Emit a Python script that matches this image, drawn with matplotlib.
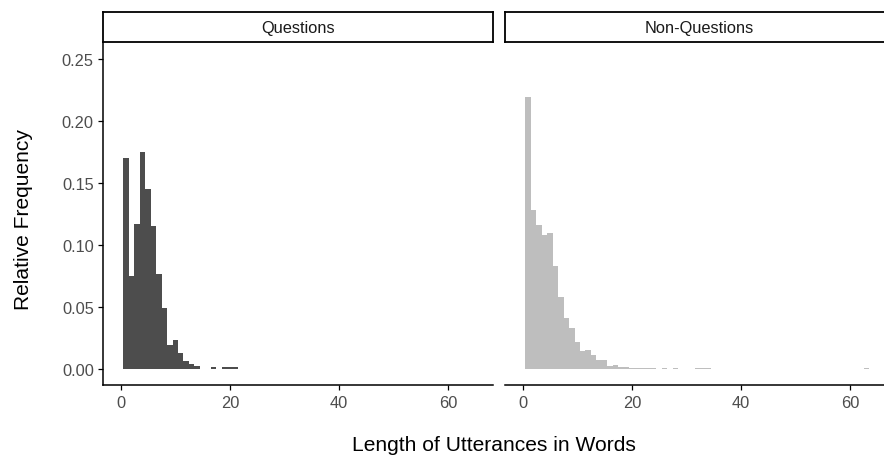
import matplotlib
matplotlib.use('Agg')
import matplotlib.pyplot as plt

plt.rcParams['font.family'] = ['Liberation Sans', 'DejaVu Sans']

#%% Daten

panels = ['Questions', 'Non-Questions']

q_len = [1, 2, 3, 4, 5, 6, 7, 8, 9, 10, 11, 12, 13, 14, 17, 19, 20, 21]
q_freq = [0.170, 0.075, 0.117, 0.175, 0.145, 0.115, 0.0765, 0.049, 0.019, 0.0235,
          0.0128, 0.0061, 0.004, 0.002, 0.0014, 0.0014, 0.0014, 0.0014]

n_len = list(range(1, 25)) + [26, 28, 32, 33, 34, 63]
n_freq = [0.2187, 0.128, 0.1158, 0.108, 0.1094, 0.0832, 0.0583, 0.0414, 0.0332, 0.0219,
          0.0142, 0.015, 0.011, 0.0072, 0.0072, 0.0027, 0.0032, 0.0019, 0.0013, 0.0010,
          0.0010, 0.0009, 0.0009, 0.0008, 0.0008, 0.0008, 0.0008, 0.0008, 0.0008, 0.0008]

x_ticks = [0, 20, 40, 60]
y_ticks = [0.00, 0.05, 0.10, 0.15, 0.20, 0.25]

dark_grey = '#4D4D4D'
light_grey = '#BEBEBE'

#%% Plot

W, H = 884, 456
fig = plt.figure(figsize=(W/100, H/100), dpi=100)

def box(x0, y0, x1, y1):
    # Pixel -> Figure-Koordinaten
    return [x0/W, 1 - y1/H, (x1 - x0)/W, (y1 - y0)/H]

ax1 = fig.add_axes(box(103, 44, 493, 385.5))
ax2 = fig.add_axes(box(505, 44, 895, 385.5))

data = [(q_len, q_freq, dark_grey), (n_len, n_freq, light_grey)]

for i, (ax, (x, y, c)) in enumerate(zip([ax1, ax2], data)):
    ax.bar(x, y, width=1.0, color=c, linewidth=0)
    ax.set_xlim(-3.25, 68.25)
    ax.set_ylim(-0.0125, 0.2625)
    ax.set_xticks(x_ticks)
    ax.set_yticks(y_ticks)
    ax.set_yticklabels(['%.2f' % v for v in y_ticks])
    for s in ['top', 'right']:
        ax.spines[s].set_visible(False)
    ax.spines['bottom'].set_linewidth(1.1)
    ax.spines['left'].set_linewidth(1.1)
    ax.tick_params(length=3.6, width=0.9, colors='black', labelcolor='#4D4D4D',
                   labelsize=11.8, pad=3)
    ax.tick_params(axis='x', pad=4)
    if i == 1:
        ax.spines['left'].set_visible(False)
        ax.tick_params(axis='y', left=False, labelleft=False)

# Facetten-Streifen
strips = [(102.5, 493), (504.5, 895)]
for (x0, x1), name in zip(strips, panels):
    sax = fig.add_axes(box(x0, 13, x1, 43))
    sax.set_xticks([])
    sax.set_yticks([])
    for s in sax.spines.values():
        s.set_linewidth(1.3)
    sax.text(0.5, 0.5, name, transform=sax.transAxes, ha='center', va='center',
             fontsize=11.8, color='#1A1A1A')

fig.text(24/W, 1 - 220/H, 'Relative Frequency', rotation=90, ha='center', va='center',
         fontsize=15.1, color='black')
fig.text(494/W, 1 - 446/H, 'Length of Utterances in Words', ha='center', va='center',
         fontsize=15.1, color='black')

fig.savefig('out.png', dpi=100)
